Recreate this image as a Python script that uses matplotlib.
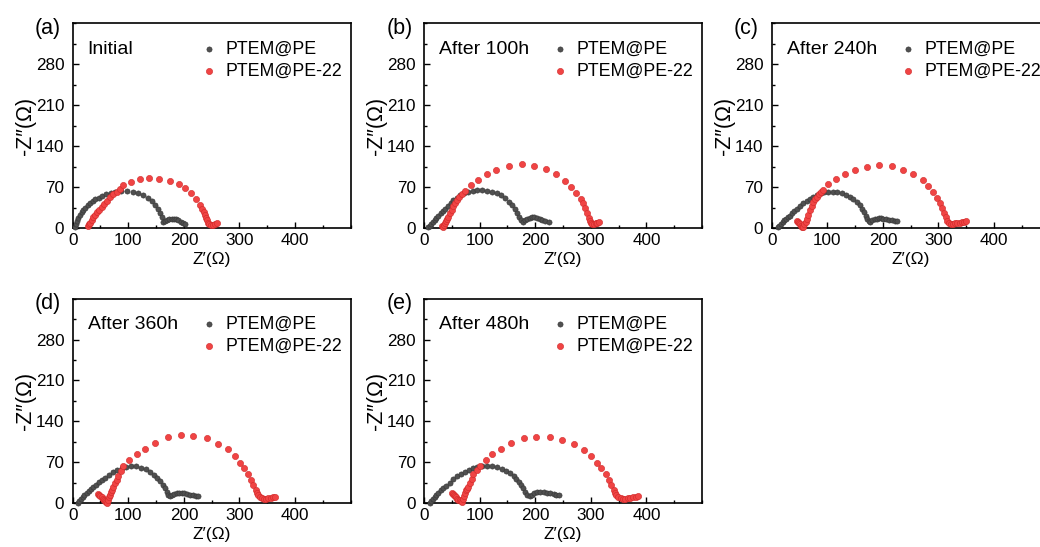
import matplotlib
matplotlib.use("Agg")
import matplotlib.pyplot as plt
from matplotlib.ticker import MultipleLocator

plt.rcParams['font.family'] = ['Liberation Sans', 'DejaVu Sans']

# ---------------- dados ----------------
titulos = ["Initial", "After 100h", "After 240h", "After 360h", "After 480h"]
letras = ["(a)", "(b)", "(c)", "(d)", "(e)"]

# PTEM@PE (cinza)
pe_x_a = [4, 6, 8, 10, 13, 16, 19, 23, 27, 31, 36, 41, 47, 53, 60, 68, 76, 86, 97, 108, 118, 127, 135, 142, 148, 153, 157, 160, 163,
          166, 170, 174, 178, 182, 186, 190, 194, 198, 202]
pe_y_a = [2, 7, 12, 17, 22, 27, 31, 35, 39, 42, 46, 49, 52, 55, 58, 60, 62, 63, 63, 62, 60, 56, 51, 46, 40, 33, 25, 18, 11,
          12, 14, 15, 16, 16, 15, 13, 11, 9, 7]

pe_x_b = [8, 10, 13, 16, 19, 22, 26, 30, 34, 38, 43, 48, 53, 59, 65, 72, 80, 88, 96, 105, 114, 123, 131, 139, 146, 152, 158, 163, 167, 171, 175, 178,
          182, 186, 190, 194, 198, 203, 208, 213, 218, 224]
pe_y_b = [1, 4, 7, 10, 14, 17, 21, 25, 29, 33, 38, 43, 48, 52, 56, 59, 62, 64, 65, 65, 64, 62, 60, 56, 51, 45, 39, 32, 25, 19, 14, 11,
          13, 15, 17, 18, 18, 17, 16, 14, 12, 10]

pe_x_c = [12, 14, 17, 20, 23, 26, 30, 33, 37, 41, 46, 51, 57, 63, 69, 75, 81, 88, 95, 102, 110, 118, 126, 134, 141, 147, 153, 158, 162, 166, 169, 172, 175, 177,
          181, 185, 189, 193, 197, 201, 206, 211, 216, 221, 225]
pe_y_c = [1, 4, 7, 10, 13, 16, 19, 21, 25, 29, 33, 38, 42, 46, 50, 53, 56, 59, 61, 62, 62, 61, 59, 56, 53, 49, 44, 39, 33, 27, 21, 16, 12, 11,
          13, 15, 16, 17, 17, 16, 15, 14, 13, 12, 12]

pe_x_d = [10, 12, 15, 18, 21, 25, 29, 33, 37, 42, 47, 53, 59, 66, 73, 80, 88, 96, 104, 113, 122, 131, 139, 146, 152, 157, 162, 166, 169, 172, 175,
          179, 183, 187, 191, 196, 201, 206, 211, 216, 221, 226]
pe_y_d = [1, 4, 7, 10, 14, 18, 21, 25, 28, 32, 36, 40, 44, 49, 53, 57, 60, 62, 63, 63, 61, 58, 54, 49, 44, 38, 32, 26, 20, 15, 12,
          14, 16, 17, 18, 18, 17, 16, 15, 14, 13, 12]

pe_x_e = [11, 13, 16, 19, 22, 26, 30, 35, 40, 46, 53, 60, 67, 74, 81, 88, 95, 104, 113, 122, 131, 140, 148, 155, 161, 166, 170, 174, 178, 182, 186, 190,
          194, 198, 203, 209, 215, 221, 227, 233, 238, 242]
pe_y_e = [1, 4, 7, 10, 14, 18, 22, 26, 30, 35, 41, 46, 50, 54, 57, 60, 62, 63, 64, 63, 62, 59, 55, 51, 46, 41, 37, 32, 26, 20, 15, 12,
          15, 17, 19, 20, 19, 18, 17, 16, 15, 14]

# PTEM@PE-22 (vermelho)
pe22_x_a = [28, 30, 32, 34, 37, 40, 44, 48, 52, 57, 62, 67, 73, 79, 85, 90, 104, 121, 138, 155, 175, 191, 202, 213, 221, 229, 233, 236, 238, 240, 242, 244, 246, 249, 252, 256, 259]
pe22_y_a = [3, 6, 9, 13, 18, 22, 27, 31, 36, 41, 47, 53, 58, 62, 66, 73, 79, 83, 85, 83, 81, 75, 68, 59, 49, 39, 33, 27, 22, 17, 13, 9, 6, 5, 5, 6, 8]

pe22_x_b = [32, 34, 36, 38, 40, 42, 44, 47, 50, 53, 56, 59, 63, 68, 74, 84, 98, 113, 129, 153, 176, 198, 219, 237, 253, 265, 274, 282, 286, 290, 293, 296, 298, 300, 303, 306, 309, 312, 315]
pe22_y_b = [3, 2, 5, 9, 12, 15, 19, 25, 31, 37, 43, 48, 53, 58, 64, 73, 82, 92, 99, 106, 109, 106, 101, 92, 81, 70, 59, 50, 42, 34, 25, 17, 12, 9, 7, 7, 8, 9, 11]

pe22_x_c = [45, 47, 49, 51, 53, 55, 57, 59, 61, 63, 66, 69, 72, 75, 78, 81, 85, 89, 93, 102, 116, 131, 149, 172, 193, 216, 237, 255, 272, 282, 291, 298, 303, 307, 310, 313, 316, 319, 322, 326, 330, 334, 338, 342, 346, 350]
pe22_y_c = [12, 10, 8, 6, 4, 2, 1, 6, 11, 16, 23, 31, 38, 44, 49, 53, 58, 62, 65, 75, 83, 92, 99, 105, 108, 106, 100, 92, 82, 72, 62, 51, 42, 34, 25, 18, 12, 8, 7, 7, 8, 8, 9, 10, 11, 12]

pe22_x_d = [46, 48, 50, 52, 54, 56, 58, 60, 61, 63, 65, 67, 69, 71, 73, 76, 79, 82, 86, 91, 102, 115, 130, 148, 172, 195, 217, 241, 262, 280, 292, 301, 309, 316, 321, 325, 329, 332, 334, 337, 340, 344, 348, 352, 356, 360, 364]
pe22_y_d = [16, 14, 12, 10, 8, 6, 4, 2, 1, 5, 10, 14, 19, 23, 28, 34, 40, 46, 55, 64, 74, 84, 93, 103, 113, 116, 115, 111, 101, 92, 81, 69, 60, 50, 40, 31, 22, 17, 14, 11, 9, 8, 8, 9, 9, 10, 11]

pe22_x_e = [50, 52, 54, 56, 58, 60, 62, 64, 66, 68, 70, 72, 74, 76, 78, 80, 83, 86, 89, 95, 101, 112, 123, 138, 156, 180, 202, 226, 249, 270, 288, 301, 312, 319, 327, 333, 337, 341, 344, 346, 349, 354, 358, 362, 367, 371, 376, 381, 385]
pe22_y_e = [18, 16, 14, 12, 10, 8, 6, 5, 4, 3, 8, 13, 18, 22, 25, 28, 35, 42, 50, 57, 64, 74, 84, 92, 103, 111, 114, 114, 109, 101, 91, 81, 69, 60, 50, 40, 31, 22, 17, 14, 11, 9, 8, 8, 9, 9, 10, 11, 12]

pe_x = [pe_x_a, pe_x_b, pe_x_c, pe_x_d, pe_x_e]
pe_y = [pe_y_a, pe_y_b, pe_y_c, pe_y_d, pe_y_e]
pe22_x = [pe22_x_a, pe22_x_b, pe22_x_c, pe22_x_d, pe22_x_e]
pe22_y = [pe22_y_a, pe22_y_b, pe22_y_c, pe22_y_d, pe22_y_e]

# ---------------- figura ----------------
fig = plt.figure(figsize=(10.4, 5.47), dpi=100)

larg, alt = 0.2673, 0.3742
posicoes = [(0.0699, 0.5832), (0.4077, 0.5832), (0.7420, 0.5832),
            (0.0699, 0.0799), (0.4077, 0.0799)]

for i, (l, b) in enumerate(posicoes):
    ax = fig.add_axes([l, b, larg, alt])
    ax.scatter(pe_x[i], pe_y[i], s=14, c="#505050", edgecolors="#333333", linewidths=0.4,
               label="PTEM@PE", zorder=3, clip_on=False)
    ax.scatter(pe22_x[i], pe22_y[i], s=20, c="#f04444", edgecolors="#d02828", linewidths=0.4,
               label="PTEM@PE-22", zorder=4, clip_on=False)

    ax.set_xlim(0, 500)
    ax.set_ylim(0, 350)
    ax.set_xticks([0, 100, 200, 300, 400])
    ax.set_yticks([0, 70, 140, 210, 280])
    ax.xaxis.set_minor_locator(MultipleLocator(50))
    ax.yaxis.set_minor_locator(MultipleLocator(35))
    ax.tick_params(which="both", direction="in", top=False, right=False, labelsize=12.3, width=1)
    ax.tick_params(axis="x", which="both", pad=3.5)
    ax.tick_params(axis="y", which="both", pad=6)
    ax.tick_params(which="major", length=4.5)
    ax.tick_params(which="minor", length=2.5)
    for sp in ax.spines.values():
        sp.set_linewidth(1.2)

    ax.set_xlabel("Z\u2032(\u03a9)", fontsize=12.5, labelpad=3)
    ax.set_ylabel("-Z\u2033(\u03a9)", fontsize=15.5, labelpad=0)

    ax.text(0.054, 0.874, titulos[i], transform=ax.transAxes, fontsize=14, va="center", ha="left")
    ax.text(-0.136, 0.975, letras[i], transform=ax.transAxes, fontsize=15.5, va="center", ha="left")

    ax.legend(loc="center left", bbox_to_anchor=(0.465, 0.82), frameon=False, fontsize=12.8,
              handlelength=0.8, handletextpad=0.5, labelspacing=0.3, borderpad=0,
              borderaxespad=0, scatterpoints=1)

fig.savefig("out.png", dpi=100)
